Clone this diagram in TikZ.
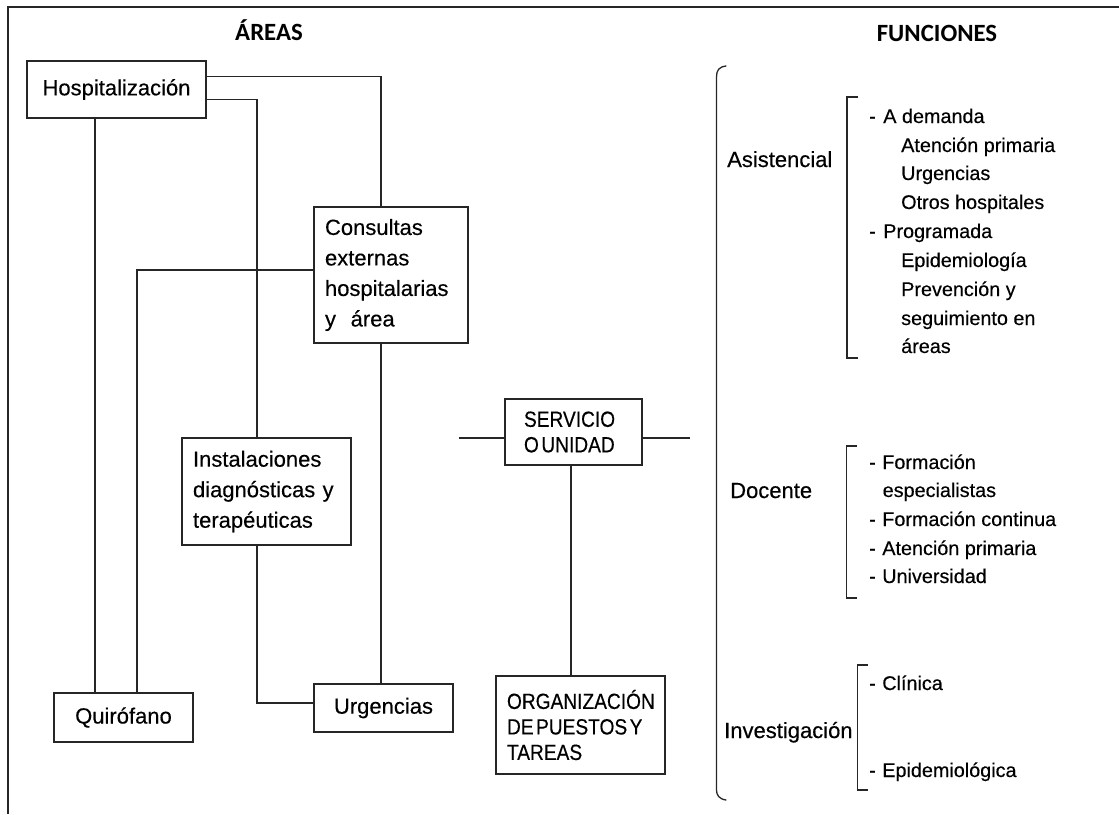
\documentclass[tikz,border=0pt]{standalone}
\usepackage{fontspec}
\setmainfont{Liberation Sans}[FakeBold=0.35]
\newfontfamily\titlefont{Carlito}
\newfontfamily\capsfont[FakeStretch=0.87,FakeBold=0.35]{Liberation Sans}
\begin{document}
\begin{tikzpicture}[x=1pt,y=-1pt,
  ln/.style={line width=1.3pt,draw=black!85},
  box/.style={ln,rectangle,inner sep=0pt,font=\fontsize{22}{30.5}\selectfont},
  capsbox/.style={ln,rectangle,inner sep=0pt,font=\capsfont\fontsize{22}{25.5}\selectfont},
  ttl/.style={font=\titlefont\bfseries\fontsize{24.8}{28}\selectfont,anchor=base,inner sep=0pt},
  lbl/.style={font=\fontsize{22}{26}\selectfont,anchor=base west,inner sep=0pt},
  lst/.style={font=\fontsize{19.8}{24}\selectfont,anchor=base west,inner sep=0pt}]
\useasboundingbox (0,0) rectangle (1119,814);
% frame
\draw[ln] (1119,7) -- (8,7) -- (8,814);
% titles
\node[ttl] (tareas) at (269,40) {ÁREAS};
\node[ttl] (tfun) at (937,41) {FUNCIONES};
% boxes
\node[box,minimum width=179pt,minimum height=57pt] (hosp) at (116.5,89.5) {Hospitalización};
\node[box,minimum width=154pt,minimum height=136pt,text width=132pt,align=left] (cons) at (391,275)
  {Consultas\\externas\\hospitalarias\\y\ \ área};
\node[box,minimum width=169pt,minimum height=107pt,text width=147pt,align=left] (inst) at (266.5,491.5)
  {Instalaciones\\diagnósticas y\\terapéuticas};
\node[box,minimum width=139pt,minimum height=49pt] (quir) at (123.5,717.5) {Quirófano};
\node[box,minimum width=139pt,minimum height=48pt] (urg) at (383.5,708) {Urgencias};
\node[capsbox,minimum width=137pt,minimum height=66pt,text width=99pt,align=left] (serv) at (573.5,432)
  {SERVICIO\\O\hspace{2.5pt}UNIDAD};
\node[capsbox,minimum width=169pt,minimum height=98pt,text width=147pt,align=left] (org) at (580.5,725)
  {ORGANIZACIÓN\\DE\hspace{2.5pt}PUESTOS\hspace{2.5pt}Y\\TAREAS};
% connectors
\draw[ln] ([yshift=-16pt]hosp.north east) -| ([xshift=-10pt]cons.north);
\draw[ln] ([yshift=-39pt]hosp.north east) -| ([xshift=-9.5pt]inst.north);
\draw[ln] ([xshift=-21.5pt]hosp.south) -- ([xshift=-21.5pt]hosp.south |- quir.north);
\draw[ln] ([yshift=5pt]cons.west) -| ([xshift=13.5pt]quir.north);
\draw[ln] ([xshift=-10pt]cons.south) -- ([xshift=-10pt]cons.south |- urg.north);
\draw[ln] ([xshift=-9.5pt]inst.south) |- ([yshift=5pt]urg.west);
\coordinate (sl) at (459,438);
\coordinate (sr) at (690,438);
\draw[ln] (sl) -- (sl -| serv.west);
\draw[ln] (sr) -- (sr -| serv.east);
\draw[ln] ([xshift=-2.5pt]serv.south) -- ([xshift=-2.5pt]serv.south |- org.north);
% big brace
\draw[ln,line cap=round] (726,66) .. controls (719,67) and (716.5,70) .. (716.5,77) -- (716.5,790)
  .. controls (716.5,795) and (719,799) .. (726,800);
% brackets
\draw[ln] (858,97) -- (847,97) -- (847,358) -- (858,358);
\draw[ln] (857,446) -- (846.5,446) -- (846.5,598) -- (857,598);
\draw[ln] (868,665) -- (857.5,665) -- (857.5,790) -- (868,790);
% labels
\node[lbl] (asis) at (727,167) {Asistencial};
\node[lbl] (doc) at (730,498) {Docente};
\node[lbl] (inv) at (724,738) {Investigación};
% list asistencial
\node[lst] (a1) at (869,123) {-\hspace{7.5pt}A demanda};
\node[lst] (a2) at (901,152) {Atención primaria};
\node[lst] (a3) at (901,180) {Urgencias};
\node[lst] (a4) at (901,209) {Otros hospitales};
\node[lst] (a5) at (869,238) {-\hspace{7.5pt}Programada};
\node[lst] (a6) at (901,267) {Epidemiología};
\node[lst] (a7) at (901,296) {Prevención y};
\node[lst] (a8) at (901,325) {seguimiento en};
\node[lst] (a9) at (901,353) {áreas};
% list docente
\node[lst] (d1) at (869,469) {-\hspace{6.5pt}Formación};
\node[lst] (d2) at (882.5,497) {especialistas};
\node[lst] (d3) at (869,526) {-\hspace{6.5pt}Formación continua};
\node[lst] (d4) at (869,555) {-\hspace{6.5pt}Atención primaria};
\node[lst] (d5) at (869,583) {-\hspace{6.5pt}Universidad};
% list investigacion
\node[lst] (i1) at (869,690) {-\hspace{6.5pt}Clínica};
\node[lst] (i2) at (869,777) {-\hspace{6.5pt}Epidemiológica};
\end{tikzpicture}
\end{document}
